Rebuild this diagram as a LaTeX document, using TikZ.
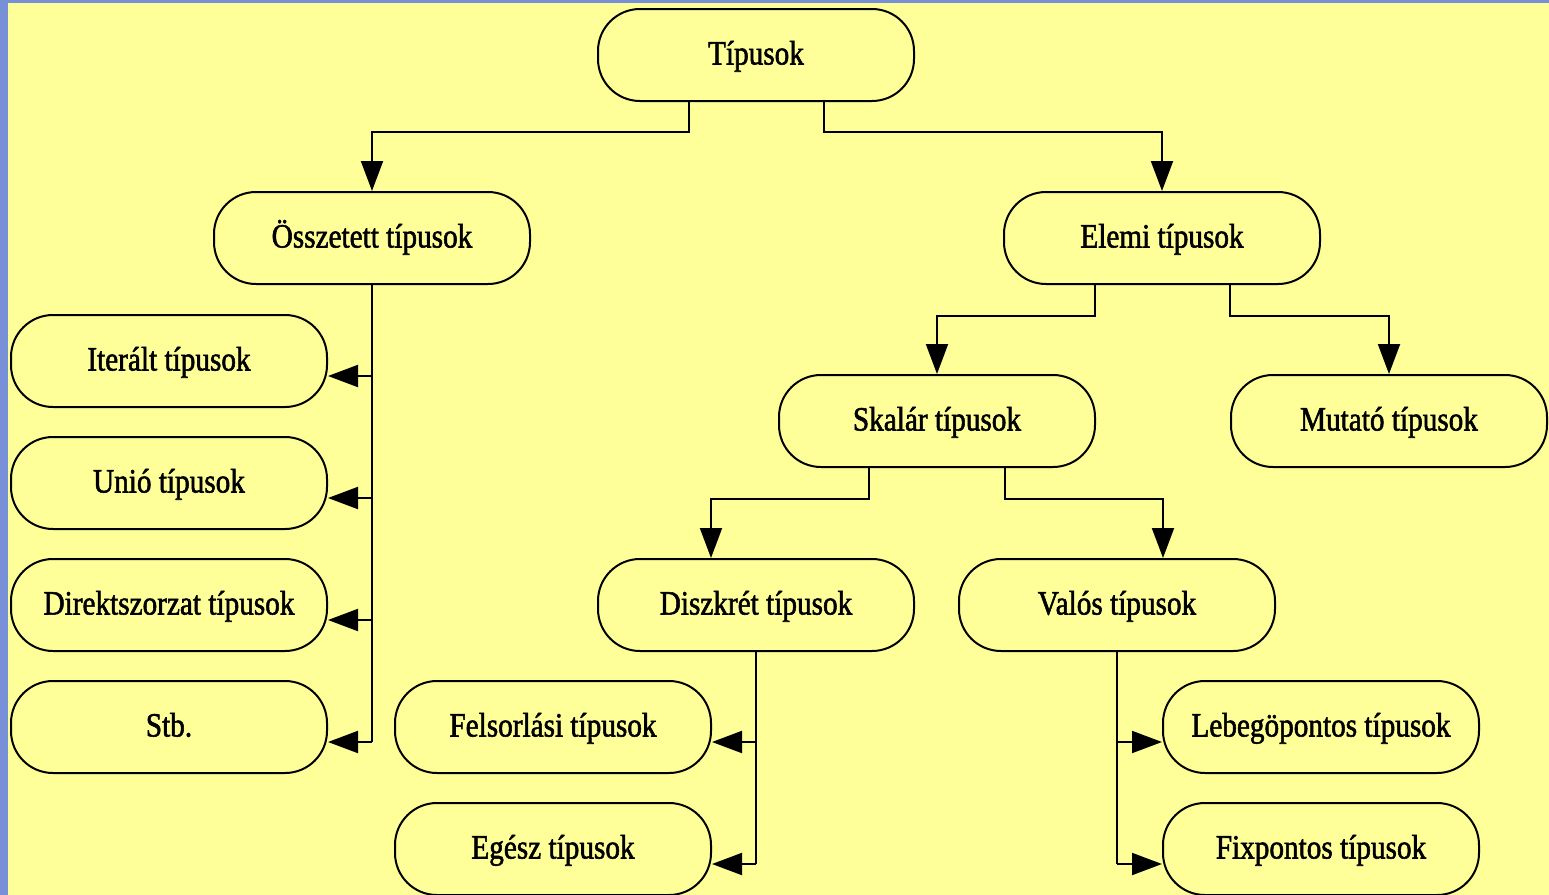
\documentclass[tikz,border=0pt]{standalone}
\usepackage{fontspec}
\setmainfont{Liberation Serif}[FakeStretch=0.86,FakeBold=1.6]
\usetikzlibrary{calc,arrows.meta}
\definecolor{bgyellow}{RGB}{255,255,153}
\definecolor{bgblue}{RGB}{120,144,216}

\begin{document}
\begin{tikzpicture}[x=0.5pt,y=-0.5pt,
  typ/.style={draw,line width=1pt,rounded corners=21pt,minimum width=158pt,minimum height=46pt,
    inner sep=0pt,text height=0.95em,text depth=0pt,font=\fontsize{17pt}{18pt}\selectfont},
  arr/.style={line width=1pt,-{Triangle[length=15pt,width=11pt]}},
  ln/.style={line width=1pt}]
\fill[bgblue] (0,0) rectangle (1549,895);
\fill[bgyellow] (8,3) rectangle (1549,895);
\useasboundingbox (0,0) rectangle (1549,895);

\node[typ] (tip) at (756,55) {Típusok};
\node[typ] (osz) at (372,238) {Összetett típusok};
\node[typ] (elemi) at (1162,238) {Elemi típusok};
\node[typ] (iter) at (169,361) {Iterált típusok};
\node[typ] (unio) at (169,483) {Unió típusok};
\node[typ] (direkt) at (169,605) {Direktszorzat típusok};
\node[typ] (stb) at (169,727) {Stb.};
\node[typ] (skalar) at (937,421) {Skalár típusok};
\node[typ] (mutato) at (1389,421) {Mutató típusok};
\node[typ] (diszkret) at (756,605) {Diszkrét típusok};
\node[typ] (valos) at (1117,605) {Valós típusok};
\node[typ] (felsor) at (553,727) {Felsorlási típusok};
\node[typ] (egesz) at (553,849) {Egész típusok};
\node[typ] (lebego) at (1321,727) {Lebegöpontos típusok};
\node[typ] (fix) at (1321,849) {Fixpontos típusok};

\draw[arr] ($(tip.south)+(-67,0)$) -- ++(0,30) -| (osz.north);
\draw[arr] ($(tip.south)+(68,0)$) -- ++(0,30) -| (elemi.north);
\draw[arr] ($(elemi.south)+(-67,0)$) -- ++(0,31) -| (skalar.north);
\draw[arr] ($(elemi.south)+(68,0)$) -- ++(0,31) -| (mutato.north);
\draw[arr] ($(skalar.south)+(-68,0)$) -- ++(0,31) -| ($(diszkret.north)+(-45,0)$);
\draw[arr] ($(skalar.south)+(68,0)$) -- ++(0,31) -| ($(valos.north)+(46,0)$);

\draw[ln] (osz.south) -- ([yshift=-7.5pt]osz.south |- stb.east);
\foreach \n in {iter,unio,direkt,stb}
  \draw[arr] ([yshift=-7.5pt]osz.south |- \n.east) -- ([yshift=-7.5pt]\n.east);
\draw[ln] (diszkret.south) -- ([yshift=-7.5pt]diszkret.south |- egesz.east);
\foreach \n in {felsor,egesz}
  \draw[arr] ([yshift=-7.5pt]diszkret.south |- \n.east) -- ([yshift=-7.5pt]\n.east);
\draw[ln] (valos.south) -- ([yshift=-7.5pt]valos.south |- fix.west);
\foreach \n in {lebego,fix}
  \draw[arr] ([yshift=-7.5pt]valos.south |- \n.west) -- ([yshift=-7.5pt]\n.west);
\end{tikzpicture}
\end{document}
